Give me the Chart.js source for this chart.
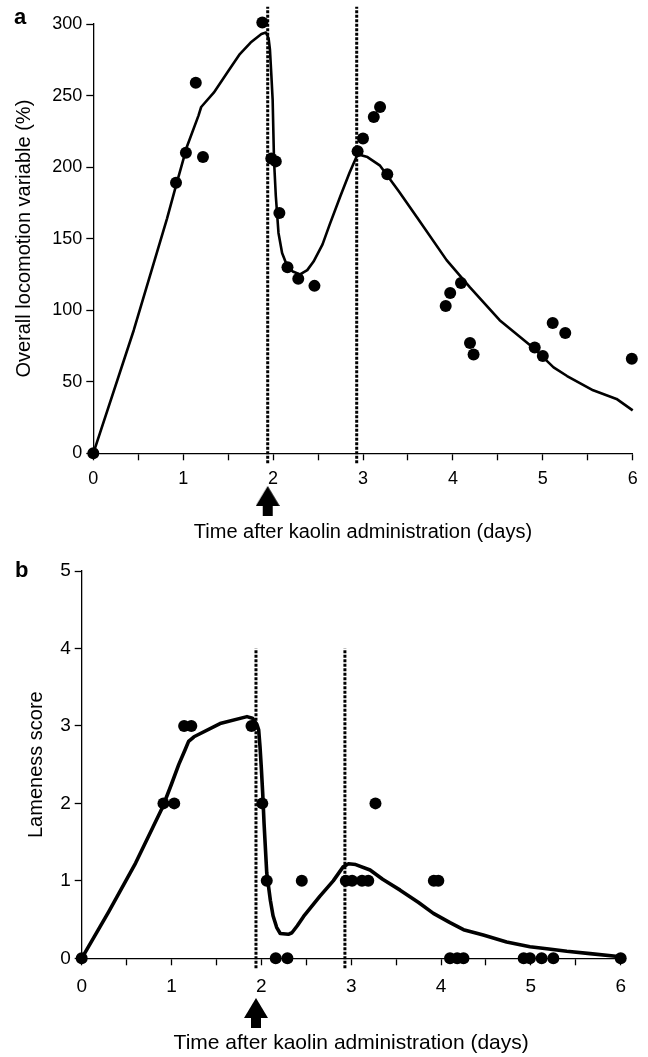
<!DOCTYPE html>
<html lang="en">
<head>
<meta charset="UTF-8">
<title>Locomotion and lameness after kaolin</title>
<script src="https://cdn.jsdelivr.net/npm/chart.js"></script>
<style>
  body { margin: 0; background: #fff; width: 648px; height: 1057px; position: relative; overflow: hidden; font-family: "Liberation Sans", Arial, sans-serif; }
  .wrap { position: absolute; left: 0; width: 648px; }
  .panel-label { position: absolute; font-weight: bold; font-size: 22px; line-height: 22px; color: #000; }
</style>
</head>
<body>
<div class="wrap" style="top:0;height:548px"><canvas id="chartA"></canvas></div>
<div class="wrap" style="top:548px;height:509px"><canvas id="chartB"></canvas></div>
<div class="panel-label" style="left:14px;top:6px">a</div>
<div class="panel-label" style="left:15px;top:559px">b</div>

<script>
// kaolin given just before day 2, second line just before day 3
const kaolinDay = 1.94;
const secondDay = 2.93;

// panel a - overall locomotion variable (%)
const locoDays   = [0, 0.92, 1.03, 1.14, 1.22, 1.88, 1.98, 2.03, 2.07, 2.16, 2.28, 2.46, 2.94, 3.00, 3.12, 3.19, 3.27, 3.92, 3.97, 4.09, 4.19, 4.23, 4.91, 5.00, 5.11, 5.25, 5.99];
const locoValues = [0, 189, 210, 259, 207, 301, 206, 204, 168, 130, 122, 117, 211, 220, 235, 242, 195, 103, 112, 119, 77, 69, 74, 68, 91, 84, 66];
const locoFitDays   = [0, 0.45, 0.82, 0.92, 1.04, 1.17, 1.2, 1.34, 1.5, 1.63, 1.75, 1.87, 1.92, 1.95, 1.965, 1.98, 1.995, 2.01, 2.03, 2.06, 2.1, 2.15, 2.22, 2.3, 2.38, 2.45, 2.55, 2.63, 2.75, 2.85, 2.94, 3.05, 3.19, 3.4, 3.6, 3.93, 4.19, 4.52, 4.89, 5.12, 5.27, 5.56, 5.82, 6.0];
const locoFitValues = [0, 86, 164, 187, 214, 236, 242, 252, 267, 279, 287, 293, 294, 290, 282, 265, 247, 205, 180, 154, 140, 132, 127, 125, 128, 134, 146, 160, 180, 196, 209, 207, 201, 183, 165, 135, 116, 93, 74, 60, 54, 44, 38, 30];

// panel b - lameness score
const lameDays   = [0, 0.91, 1.03, 1.14, 1.22, 1.89, 2.01, 2.06, 2.16, 2.29, 2.45, 2.94, 3.01, 3.12, 3.19, 3.27, 3.92, 3.97, 4.10, 4.18, 4.25, 4.92, 4.99, 5.12, 5.25, 6.0];
const lameScores = [0, 2, 2, 3, 3, 3, 2, 1, 0, 0, 1, 1, 1, 1, 1, 2, 1, 1, 0, 0, 0, 0, 0, 0, 0, 0];
const lameFitDays   = [0, 0.3, 0.6, 0.9, 1.0, 1.08, 1.15, 1.19, 1.25, 1.54, 1.84, 1.9, 1.95, 1.97, 1.985, 2.0, 2.015, 2.03, 2.06, 2.1, 2.13, 2.17, 2.21, 2.3, 2.34, 2.4, 2.47, 2.65, 2.8, 2.91, 2.97, 3.05, 3.21, 3.35, 3.545, 3.75, 3.915, 4.1, 4.25, 4.47, 4.73, 4.99, 5.2, 5.4, 5.66, 6.0];
const lameFitScores = [0, 0.6, 1.23, 1.95, 2.25, 2.5, 2.69, 2.8, 2.86, 3.03, 3.12, 3.1, 3.02, 2.95, 2.73, 2.45, 2.13, 1.74, 1.1, 0.75, 0.55, 0.4, 0.32, 0.31, 0.33, 0.42, 0.54, 0.8, 1.0, 1.18, 1.22, 1.21, 1.14, 1.02, 0.88, 0.72, 0.58, 0.46, 0.37, 0.3, 0.21, 0.15, 0.12, 0.09, 0.06, 0.02];

const xTickLabels = ['0', '1', '2', '3', '4', '5', '6'];
const xTitle = 'Time after kaolin administration (days)';

const FONT = '"Liberation Sans", Arial, Helvetica, sans-serif';

function pts(xs, ys) {
	return xs.map((x, i) => ({ x: x, y: ys[i] }));
}

// little black arrow used as the point style for the kaolin marker
function arrowImage() {
	const c = document.createElement('canvas');
	c.width = 24;
	c.height = 30;
	const g = c.getContext('2d');
	g.fillStyle = '#000';
	g.beginPath();
	g.moveTo(12, 0);
	g.lineTo(0, 20);
	g.lineTo(24, 20);
	g.closePath();
	g.fill();
	g.fillRect(7, 19, 10, 11);
	return c;
}
const arrow = arrowImage();

function makePanel(id, p) {
	const ctx = document.getElementById(id).getContext('2d');
	return new Chart(ctx, {
		type: 'scatter',
		data: {
			datasets: [
				{
					data: pts(p.days, p.values),
					backgroundColor: '#000',
					borderWidth: 0,
					pointRadius: 6,
					clip: false
				},
				{
					data: pts(p.fitDays, p.fitValues),
					showLine: true,
					borderColor: '#000',
					borderWidth: p.fitWidth,
					borderJoinStyle: 'round',
					pointRadius: 0,
					tension: 0,
					clip: false
				},
				{
					data: pts([kaolinDay, kaolinDay], p.dotRange),
					showLine: true,
					borderColor: '#000',
					borderWidth: 3,
					borderDash: [3, 1.5],
					pointRadius: 0,
					clip: false
				},
				{
					data: pts([secondDay, secondDay], p.dotRange),
					showLine: true,
					borderColor: '#000',
					borderWidth: 3,
					borderDash: [3, 1.5],
					pointRadius: 0,
					clip: false
				},
				{
					data: [{ x: kaolinDay, y: p.arrowY }],
					pointStyle: arrow,
					pointRadius: 70,
					clip: false
				}
			]
		},
		options: {
			responsive: true,
			maintainAspectRatio: false,
			animation: false,
			events: [],
			layout: {
				autoPadding: false,
				padding: { top: p.padTop, right: p.padRight, bottom: 0, left: 0 }
			},
			plugins: { legend: { display: false }, tooltip: { enabled: false } },
			scales: {
				x: {
					type: 'linear',
					min: 0,
					max: 6,
					afterFit: s => { s.height = p.xHeight; s.paddingLeft = 0; s.paddingRight = 0; },
					ticks: {
						stepSize: 0.5,
						color: '#000',
						padding: p.xTickPad,
						maxRotation: 0,
						autoSkip: false,
						font: { family: FONT, size: p.tickSize },
						callback: v => Number.isInteger(v) ? xTickLabels[v] : ''
					},
					grid: { drawOnChartArea: false, color: '#000', tickLength: 7, tickWidth: 1.3 },
					border: { color: '#000', width: 1.3 },
					title: {
						display: true,
						text: xTitle,
						color: '#000',
						font: { family: FONT, size: p.xTitleSize },
						padding: { top: 0, bottom: p.xTitlePad }
					}
				},
				y: {
					min: 0,
					max: p.yMax,
					afterFit: s => { s.width = p.yWidth; s.paddingTop = 0; s.paddingBottom = 0; },
					ticks: {
						stepSize: p.yStep,
						color: '#000',
						padding: 4,
						font: { family: FONT, size: p.tickSize }
					},
					grid: { drawOnChartArea: false, color: '#000', tickLength: 7, tickWidth: 1.3 },
					border: { color: '#000', width: 1.3 },
					title: {
						display: true,
						text: p.yTitle,
						color: '#000',
						font: { family: FONT, size: 20 },
						padding: { top: p.yTitlePad, bottom: 0 }
					}
				}
			}
		}
	});
}

makePanel('chartA', {
	days: locoDays, values: locoValues,
	fitDays: locoFitDays, fitValues: locoFitValues, fitWidth: 2.6,
	dotRange: [-7, 312], arrowY: -33.3,
	yMax: 300, yStep: 50, yTitle: 'Overall locomotion variable (%)',
	padTop: 24, padRight: 15.3, xHeight: 94.7, yWidth: 93.3,
	tickSize: 18, xTickPad: 8, xTitleSize: 20, xTitlePad: 4, yTitlePad: 12
});

makePanel('chartB', {
	days: lameDays, values: lameScores,
	fitDays: lameFitDays, fitValues: lameFitScores, fitWidth: 3.6,
	dotRange: [-0.13, 4], arrowY: -0.706,
	yMax: 5, yStep: 1, yTitle: 'Lameness score',
	padTop: 23, padRight: 27.3, xHeight: 98.7, yWidth: 81.7,
	tickSize: 19, xTickPad: 10, xTitleSize: 21, xTitlePad: 1, yTitlePad: 24
});
</script>
</body>
</html>
